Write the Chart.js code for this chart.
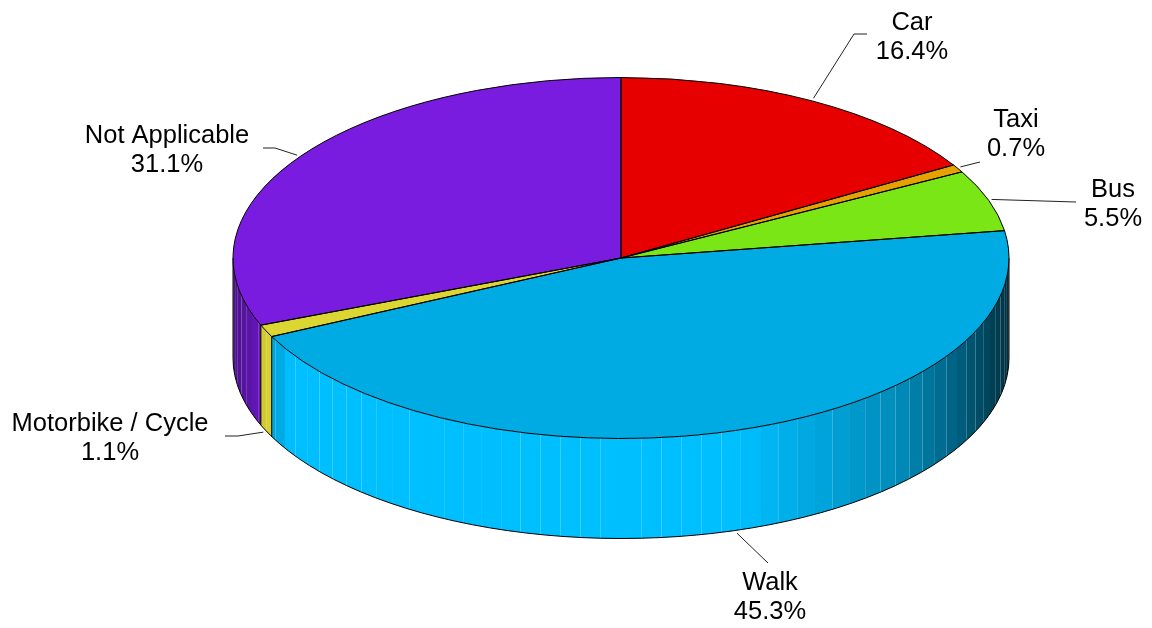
<!DOCTYPE html>
<html>
<head>
<meta charset="utf-8">
<style>html,body{margin:0;padding:0;background:#fff}#w{width:1152px;height:628px}</style>
<script src="https://cdn.jsdelivr.net/npm/chart.js@4/dist/chart.umd.min.js"></script>
</head>
<body>
<div id="w"><canvas id="c" width="1152" height="628"></canvas></div>
<script>
const categories = ['Car','Taxi','Bus','Walk','Motorbike / Cycle','Not Applicable'];
const shares = [16.4,0.7,5.5,45.3,1.1,31.1];
const topColors = ['#E60000','#E6A000','#7AE616','#00ABE3','#DBD632','#7A1CE0'];
const wallColors = ['#FF0000','#FFB200','#88FF18','#00BFFF','#FFF93A','#7E1CE8'];

// label layout: text centre x, first baseline y, leader elbow points (outer end first)
const labelLayout = [
  {x:912, y:30,  leader:[[867,34],[854,34]]},
  {x:1016,y:127, leader:[[980,162]]},
  {x:1113,y:197, leader:[[1076,202]]},
  {x:770, y:590, leader:[[768,563]]},
  {x:110, y:431, leader:[[225,436],[238,436]]},
  {x:167, y:143, leader:[[263,148],[275,148]]}
];
const tilt = 0.4652, depth = 100, fontPx = 25.5, lineGap = 29;
const shadeStops = [[-1,.6],[-.94,.78],[-.88,.89],[-.85,1],[.3,1],[.5,.87],[.72,.72],[.87,.5],[.977,.3],[1,.25]];

function shade(hex,u){
  let f = 1;
  for(let i=1;i<shadeStops.length;i++){
    const [a,fa]=shadeStops[i-1],[b,fb]=shadeStops[i];
    if(u>=a&&u<=b){f=fa+(fb-fa)*(u-a)/(b-a);break;}
  }
  const n=parseInt(hex.slice(1),16);
  return `rgb(${Math.round((n>>16&255)*f)},${Math.round((n>>8&255)*f)},${Math.round((n&255)*f)})`;
}

const pie3d = {
  id:'pie3d',
  beforeDatasetsDraw(chart){
    const ctx=chart.ctx, arcs=chart.getDatasetMeta(0).data;
    const cx=arcs[0].x, cy=arcs[0].y, rx=arcs[0].outerRadius, ry=rx*tilt;
    const step=Math.PI/60;
    ctx.save();
    arcs.forEach((el,i)=>{
      const a=Math.max(el.startAngle,0), b=Math.min(el.endAngle,Math.PI);
      if(b<=a) return;
      let s=a;
      while(s<b-1e-6){
        const e=Math.min(b,(Math.floor(s/step+1e-6)+1)*step);
        const m=(s+e)/2;
        ctx.beginPath();
        ctx.ellipse(cx,cy+depth,rx,ry,0,s,e);
        ctx.ellipse(cx,cy,rx,ry,0,e,s,true);
        ctx.closePath();
        ctx.fillStyle=shade(wallColors[i],Math.cos(m));
        ctx.fill();
        s=e;
      }
    });
    // wall outlines
    ctx.strokeStyle='#000'; ctx.lineWidth=1;
    ctx.beginPath();
    ctx.ellipse(cx,cy+depth,rx,ry,0,0,Math.PI);
    ctx.stroke();
    const verticals=[0,Math.PI];
    arcs.forEach(el=>{ if(el.endAngle>0&&el.endAngle<Math.PI) verticals.push(el.endAngle); });
    verticals.forEach(t=>{
      const x=cx+rx*Math.cos(t), y=cy+ry*Math.sin(t);
      ctx.beginPath(); ctx.moveTo(x,y); ctx.lineTo(x,y+depth); ctx.stroke();
    });
    ctx.restore();
    // flatten the library's own arcs onto the ellipse
    ctx.save();
    ctx.translate(cx,cy); ctx.scale(1,tilt); ctx.translate(-cx,-cy);
  },
  afterDatasetsDraw(chart){
    const ctx=chart.ctx;
    ctx.restore();
    const arcs=chart.getDatasetMeta(0).data;
    const cx=arcs[0].x, cy=arcs[0].y, rx=arcs[0].outerRadius, ry=rx*tilt;
    ctx.save();
    ctx.strokeStyle='#000'; ctx.lineWidth=1; ctx.lineJoin='round';
    arcs.forEach(el=>{
      ctx.beginPath();
      ctx.moveTo(cx,cy);
      ctx.ellipse(cx,cy,rx,ry,0,el.startAngle,el.endAngle);
      ctx.closePath();
      ctx.stroke();
    });
    // leaders and labels
    ctx.font=fontPx+'px "Liberation Sans", Arial, sans-serif';
    ctx.textAlign='center'; ctx.textBaseline='alphabetic'; ctx.fillStyle='#000';
    ctx.strokeStyle='#222';
    arcs.forEach((el,i)=>{
      const mid=(el.startAngle+el.endAngle)/2;
      const front=Math.sin(mid)>0;
      const px=cx+(rx+3)*Math.cos(mid), py=cy+(ry+3)*Math.sin(mid)+(front?depth:0);
      const L=labelLayout[i];
      ctx.beginPath();
      L.leader.forEach((p,k)=>k?ctx.lineTo(p[0],p[1]):ctx.moveTo(p[0],p[1]));
      ctx.lineTo(px,py);
      ctx.stroke();
      ctx.fillText(categories[i],L.x,L.y);
      ctx.fillText(shares[i].toFixed(1)+'%',L.x,L.y+lineGap);
    });
    ctx.restore();
  }
};

new Chart(document.getElementById('c'),{
  type:'pie',
  data:{labels:categories,datasets:[{
    data:shares,
    backgroundColor:topColors,
    borderWidth:0,
    radius:388,
    clip:false
  }]},
  options:{
    responsive:false,
    animation:false,
    events:[],
    layout:{padding:{left:90,right:0,top:0,bottom:112}},
    plugins:{legend:{display:false},tooltip:{enabled:false},title:{display:false}}
  },
  plugins:[pie3d]
});
</script>
</body>
</html>
